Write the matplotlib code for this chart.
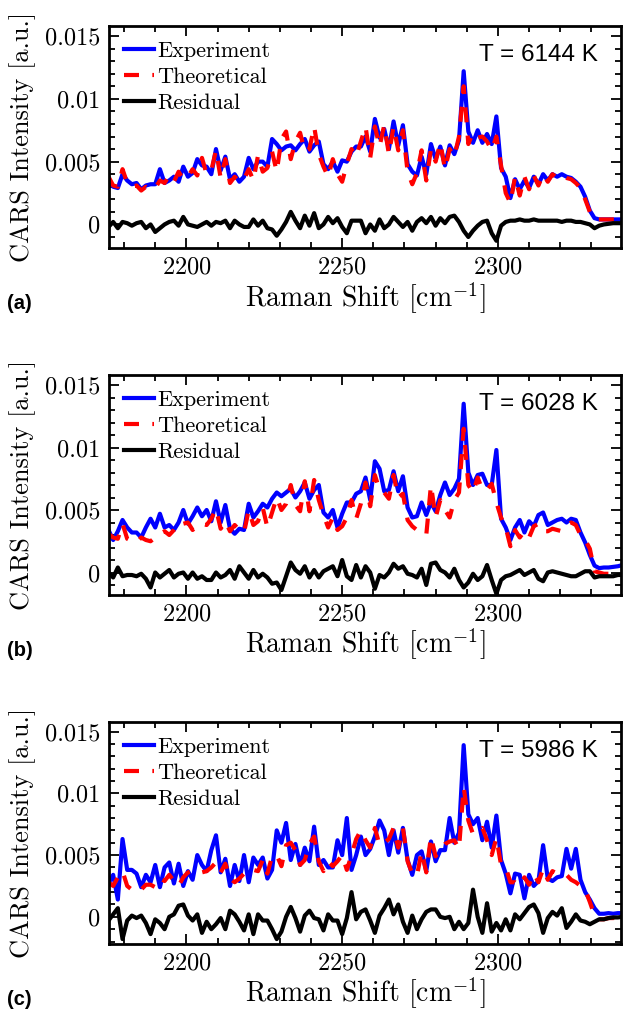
import numpy as np
import matplotlib
matplotlib.use('Agg')
import matplotlib.pyplot as plt
from matplotlib.ticker import MultipleLocator, FuncFormatter

# Eje de desplazamiento Raman (cm^-1), muestreado cada 1.5 cm^-1
raman_shift = np.arange(2175, 2340.5, 1.5)

# Intensidades, en unidades de 1e-3 (a.u.)
# Panel (a): T = 6144 K
exp_a = [3.5, 3.0, 2.9, 4.0, 3.5, 3.2, 3.3, 2.8, 3.1, 3.2,
         3.2, 4.4, 3.3, 3.5, 3.8, 3.4, 4.6, 3.8, 4.1, 5.2,
         4.7, 4.6, 4.0, 6.0, 4.3, 5.4, 3.6, 4.0, 3.4, 3.8,
         5.3, 4.4, 5.0, 5.0, 4.6, 6.8, 6.4, 5.9, 6.2, 6.3,
         5.9, 6.4, 6.8, 5.8, 6.3, 6.6, 4.8, 4.4, 5.0, 4.2,
         5.1, 5.0, 5.8, 6.2, 6.2, 7.0, 5.8, 8.4, 6.9, 7.6,
         6.0, 8.2, 6.3, 7.9, 4.8, 4.2, 3.9, 5.4, 4.0, 6.4,
         5.2, 6.2, 4.7, 6.3, 5.6, 6.7, 12.2, 7.4, 6.5, 7.5,
         6.5, 7.2, 6.4, 8.6, 4.5, 3.8, 2.1, 3.6, 2.8, 3.5,
         2.9, 3.8, 3.2, 4.0, 3.5, 4.0, 3.8, 4.0, 3.8, 3.7,
         3.4, 3.0, 2.2, 1.1, 0.5, 0.4, 0.4, 0.4, 0.4, 0.4,
         0.4]
theo_a = [3.8, 3.1, 3.0, 4.4, 3.3, 3.0, 3.1, 2.7, 3.0, 2.8,
          2.9, 3.5, 3.3, 3.9, 3.4, 4.2, 3.6, 3.8, 4.4, 3.9,
          5.3, 4.0, 4.3, 5.9, 3.7, 5.2, 3.3, 3.8, 3.4, 3.6,
          4.4, 3.5, 5.5, 4.2, 4.5, 5.8, 4.2, 6.8, 7.4, 5.2,
          6.6, 7.3, 5.8, 6.0, 7.8, 5.6, 4.6, 3.8, 5.2, 4.0,
          3.4, 4.8, 6.0, 5.4, 6.6, 7.8, 5.3, 7.8, 6.2, 7.9,
          5.6, 7.8, 5.9, 7.5, 4.2, 3.2, 4.1, 5.9, 3.5, 6.0,
          5.0, 6.5, 4.4, 6.0, 5.4, 7.0, 11.0, 6.4, 7.3, 6.9,
          7.0, 6.6, 5.9, 7.0, 4.7, 2.5, 1.7, 3.8, 2.3, 3.8,
          2.8, 3.9, 3.1, 4.0, 3.4, 4.0, 3.7, 3.9, 3.7, 3.6,
          3.3, 2.9, 2.0, 1.0, 0.4, 0.4, 0.4, 0.4, 0.4, 0.4,
          0.4]
resid_a = [-0.2, 0.2, -0.3, 0.2, 0.1, -0.1, 0.1, 0.2, -0.3, 0.0,
           -0.6, -0.3, 0.0, 0.2, 0.3, -0.1, 0.6, 0.0, -0.1, -0.2,
           0.0, 0.2, -0.1, 0.2, 0.1, 0.3, -0.3, 0.3, 0.0, -0.2,
           -0.2, 0.4, -0.1, 0.3, -0.3, -0.4, -0.9, -0.4, 0.2, 1.0,
           0.3, -0.3, 0.7, -0.1, 0.9, -0.3, 0.0, 0.6, 0.1, 0.5,
           -0.2, -0.7, 0.3, 0.3, 0.3, -0.7, 0.0, -0.5, 0.4, -0.3,
           0.0, 0.6, 0.2, -0.2, 0.2, -0.5, 0.2, 0.5, 0.1, 0.6,
           -0.1, 0.5, 0.1, 0.6, 0.7, 0.2, -0.5, -1.0, -0.5, -0.1,
           0.2, 0.3, -0.7, -1.3, -0.1, 0.2, 0.3, 0.3, 0.4, 0.3,
           0.3, 0.4, 0.3, 0.3, 0.3, 0.3, 0.3, 0.2, 0.3, 0.3,
           0.2, 0.2, 0.1, 0.0, -0.3, -0.1, 0.0, 0.05, 0.1, 0.1,
           0.1]

# Panel (b): T = 6028 K
exp_b = [3.4, 2.6, 3.3, 4.2, 3.6, 3.2, 3.2, 2.8, 3.6, 4.3,
         3.6, 4.7, 3.6, 3.8, 3.4, 4.0, 5.0, 3.9, 4.5, 5.2,
         4.5, 5.0, 4.1, 5.7, 4.0, 5.4, 3.5, 3.1, 3.5, 3.4,
         5.5, 4.4, 4.9, 5.5, 5.2, 5.9, 6.4, 6.1, 6.4, 6.7,
         6.0, 6.5, 7.2, 5.9, 6.6, 7.0, 4.8, 4.4, 5.0, 3.6,
         4.7, 5.6, 5.6, 6.3, 6.5, 7.6, 5.8, 8.9, 8.3, 6.5,
         6.6, 8.1, 6.5, 7.7, 5.2, 4.4, 4.5, 5.6, 4.6, 5.6,
         4.9, 6.2, 7.2, 6.2, 6.7, 7.5, 13.5, 8.0, 7.0, 7.8,
         7.9, 7.0, 7.0, 9.8, 4.3, 3.6, 2.6, 3.6, 4.2, 3.2,
         4.1, 3.7, 4.6, 4.8, 3.8, 4.0, 4.2, 4.3, 4.0, 4.3,
         4.2, 3.2, 2.4, 1.4, 0.55, 0.35, 0.4, 0.4, 0.45, 0.5,
         0.6]
theo_b = [3.1, 2.8, 2.7, 3.9, 2.7, 2.5, 2.4, 2.8, 2.6, 2.5,
          2.8, 3.1, 3.3, 3.0, 3.4, 4.0, 3.9, 4.0, 3.4, 3.8,
          3.9, 3.8, 4.3, 5.1, 3.5, 4.1, 3.3, 3.8, 3.4, 3.2,
          5.0, 3.8, 4.1, 5.2, 3.6, 4.8, 6.0, 5.0, 5.5, 7.0,
          5.4, 4.9, 7.3, 4.9, 7.4, 5.8, 4.6, 3.6, 4.4, 3.4,
          3.7, 4.4, 5.8, 4.3, 5.5, 7.2, 5.3, 7.8, 6.6, 6.4,
          5.9, 7.8, 6.0, 6.3, 4.2, 3.7, 3.4, 3.2, 3.0, 7.0,
          4.4, 5.8, 5.0, 4.4, 5.8, 6.4, 11.5, 7.0, 6.4, 7.6,
          6.6, 6.6, 7.1, 5.6, 4.4, 3.6, 2.1, 3.4, 2.8, 3.3,
          2.8, 3.7, 3.9, 3.3, 3.3, 3.5, 3.4, 3.3, 3.8, 4.0,
          3.8, 3.0, 2.6, 1.9, 0.1, 0.0, -0.1, -0.1, -0.1, -0.1,
          -0.1]
resid_b = [0.0, -0.4, 0.4, -0.3, -0.2, -0.2, -0.3, -0.1, -0.5, -1.2,
           0.0, -0.4, -0.1, 0.2, -0.4, -0.1, 0.0, -0.5, 0.0, -0.5,
           -0.3, -0.6, -0.6, 0.0, -0.4, -0.2, 0.2, -0.5, 0.5, 0.0,
           -0.5, 0.2, -0.4, -0.1, -0.4, -0.9, -0.8, -1.4, -0.3, 0.8,
           0.2, -0.1, 0.5, -0.4, 0.2, -0.4, 0.1, 0.3, 0.5, -0.3,
           1.0, -0.3, -0.6, 0.6, -0.4, 0.5, 0.0, -1.3, -0.2, -0.4,
           0.0, 0.7, 0.3, 0.5, -0.1, -0.2, -0.4, 0.3, -1.0, 0.7,
           0.8, 0.2, 0.0, -0.4, 0.3, -0.6, -1.2, -0.8, -0.1, -0.6,
           -0.3, 0.6, -0.6, -1.7, -0.6, -0.3, -0.2, 0.0, 0.2, -0.2,
           0.0, 0.2, -0.5, -0.7, 0.0, 0.1, 0.0, -0.1, -0.2, -0.3,
           -0.3, -0.1, 0.1, 0.1, -0.4, -0.3, -0.3, -0.3, -0.3, -0.2,
           -0.2]

# Panel (c): T = 5986 K
exp_c = [2.7, 3.4, 1.4, 6.3, 3.8, 3.8, 3.5, 2.4, 3.4, 2.8,
         4.2, 2.4, 4.0, 4.4, 2.7, 4.3, 2.5, 3.7, 3.0, 5.0,
         4.2, 3.7, 5.4, 6.6, 3.6, 4.7, 2.5, 4.2, 2.9, 5.0,
         2.8, 4.8, 4.2, 4.8, 3.1, 3.8, 7.0, 6.0, 7.6, 4.6,
         5.9, 4.2, 5.6, 4.5, 7.3, 4.2, 4.6, 4.0, 4.0, 6.2,
         5.0, 8.0, 3.8, 5.0, 6.5, 5.0, 5.5, 6.5, 7.8, 7.0,
         5.0, 7.0, 5.2, 7.2, 4.6, 3.4, 5.0, 5.3, 3.7, 6.1,
         4.5, 5.4, 5.4, 8.0, 6.0, 6.8, 13.9, 8.3, 7.5, 8.0,
         6.2, 7.7, 5.6, 8.2, 4.6, 3.5, 1.9, 3.5, 3.4, 1.5,
         3.4, 2.5, 2.9, 5.8, 3.1, 2.9, 3.2, 3.3, 5.5, 3.9,
         5.5, 3.0, 2.0, 1.4, 0.7, 0.25, 0.25, 0.3, 0.25, 0.3,
         0.3]
theo_c = [2.8, 2.5, 3.2, 3.7, 2.5, 2.2, 2.4, 2.2, 2.6, 2.6,
          2.4, 3.1, 2.9, 3.4, 2.9, 2.5, 3.2, 3.6, 3.7, 3.5,
          3.6, 3.7, 4.0, 4.4, 3.6, 4.3, 3.1, 2.8, 3.1, 3.5,
          3.9, 3.8, 3.7, 4.6, 3.5, 4.9, 5.0, 4.1, 5.8, 6.0,
          5.4, 4.2, 4.6, 5.9, 6.5, 4.5, 3.7, 4.5, 4.1, 4.5,
          5.0, 3.8, 5.0, 6.3, 7.0, 6.2, 5.6, 7.2, 5.8, 6.0,
          6.3, 7.2, 5.6, 7.2, 4.5, 3.5, 3.3, 5.3, 3.6, 6.5,
          4.9, 5.5, 5.9, 6.1, 6.2, 5.5, 10.5, 7.8, 6.7, 6.8,
          7.2, 6.2, 5.0, 6.4, 4.2, 4.0, 2.8, 2.8, 2.5, 3.2,
          2.6, 3.5, 2.8, 3.9, 3.0, 3.7, 3.5, 3.4, 3.4, 3.0,
          2.8, 2.5, 2.2, 1.2, 0.1, -0.2, -0.2, -0.1, -0.1, -0.05,
          0.0]
resid_c = [-0.3, 0.2, 0.7, -1.8, -0.3, 0.1, -0.1, 0.1, -0.5, -1.4,
           -0.2, -0.5, -1.0, 0.0, 0.2, 0.9, 1.0, 0.1, -0.3, 0.2,
           -1.3, -0.4, -1.0, -0.6, -0.1, -1.0, 0.5, 0.2, -0.4, -1.1,
           0.2, -1.4, 0.2, -0.3, -0.3, -1.0, -1.8, -1.2, 0.0, 0.8,
           -0.1, -1.2, 0.1, 0.5, -0.1, -0.2, -1.1, 0.2, -0.3, -0.3,
           -1.4, -0.1, 2.0, -0.2, 0.4, 0.6, -0.3, -1.3, 0.1, 0.7,
           1.4, 0.2, 1.0, -0.4, -1.3, 0.1, -1.0, -0.2, 0.4, 0.6,
           0.6, 0.0, -0.1, 0.0, -1.0, -0.4, -1.0, -0.5, 2.2, 0.0,
           -1.3, 1.1, -1.2, -0.5, -1.1, -0.2, -1.1, 0.2, -0.2, 0.3,
           0.8, 1.0, 0.3, -1.3, -0.1, 0.4, 0.1, 0.7, -0.9, -0.4,
           0.2, -0.3, -0.4, -0.6, -0.4, -0.2, -0.2, -0.1, -0.05, -0.05,
           0.0]

temperatures = ['T = 6144 K', 'T = 6028 K', 'T = 5986 K']
panel_tags = ['(a)', '(b)', '(c)']
y_bottoms = [-0.0019, -0.0018, -0.0022]

# Tipografia tipo LaTeX para ejes y leyenda
plt.rcParams['font.family'] = 'serif'
plt.rcParams['font.serif'] = ['cmr10']
plt.rcParams['mathtext.fontset'] = 'cm'
plt.rcParams['axes.formatter.use_mathtext'] = True
plt.rcParams['axes.unicode_minus'] = False

fig = plt.figure(figsize=(6.24, 10.13), dpi=100)

# Posiciones de los ejes en pixeles (arriba, abajo)
H = 1013.0
W = 624.0
x0, x1 = 108.5, 621.0
boxes = [(26, 248.3), (375, 595), (721.7, 944)]

series = [(exp_a, theo_a, resid_a), (exp_b, theo_b, resid_b),
          (exp_c, theo_c, resid_c)]

for k, (top, bot) in enumerate(boxes):
    ax = fig.add_axes([x0 / W, 1 - bot / H, (x1 - x0) / W, (bot - top) / H])
    exp, theo, resid = series[k]
    alto = bot - top

    # Curvas: experimento, teoria y residuo
    ax.plot(raman_shift, np.array(exp) * 1e-3, color='b', lw=3, label='Experiment')
    ax.plot(raman_shift, np.array(theo) * 1e-3, color='r', lw=3,
            dashes=(3.6, 3.2), label='Theoretical')
    ax.plot(raman_shift, np.array(resid) * 1e-3, color='k', lw=3, label='Residual')

    ax.set_xlim(2175, 2339.5)
    ax.set_ylim(y_bottoms[k], 0.0158)

    # Marcas de los ejes
    ax.xaxis.set_major_locator(MultipleLocator(50))
    ax.xaxis.set_minor_locator(MultipleLocator(10))
    ax.yaxis.set_major_locator(MultipleLocator(0.005))
    ax.yaxis.set_minor_locator(MultipleLocator(0.001))
    ax.yaxis.set_major_formatter(FuncFormatter(lambda v, p: f'{v:g}'))
    ax.tick_params(which='both', direction='in', top=True, right=True,
                   width=1.3, labelsize=17.5)
    ax.tick_params(which='major', length=7)
    ax.tick_params(which='minor', length=4.5)
    ax.tick_params(axis='x', pad=6)
    ax.tick_params(axis='y', pad=6)
    for s in ax.spines.values():
        s.set_linewidth(2)

    # Titulos de los ejes, colocados en pixeles
    ax.set_xlabel(r'Raman Shift [cm$^{-1}$]', fontsize=20)
    ax.xaxis.set_label_coords(0.5, -32 / alto)
    ax.set_ylabel('CARS Intensity [a.u.]', fontsize=19)
    ax.yaxis.set_label_coords(-(x0 - 36) / (x1 - x0), 0.5)

    # Leyenda sin marco
    ax.legend(loc='upper left', frameon=False, fontsize=16, handlelength=1.35,
              handletextpad=0.15, labelspacing=0.29, borderaxespad=0.5,
              borderpad=0.2)

    # Temperatura ajustada
    ax.text(0.955, 0.87, temperatures[k], transform=ax.transAxes, ha='right',
            va='center', fontsize=17.5, family='Liberation Sans')

    # Etiqueta del panel
    fig.text(0.012, 1 - (bot + 55) / H, panel_tags[k], fontsize=14.5,
             fontweight='bold', family='Liberation Sans', va='center')

fig.savefig('out.png', dpi=100)
